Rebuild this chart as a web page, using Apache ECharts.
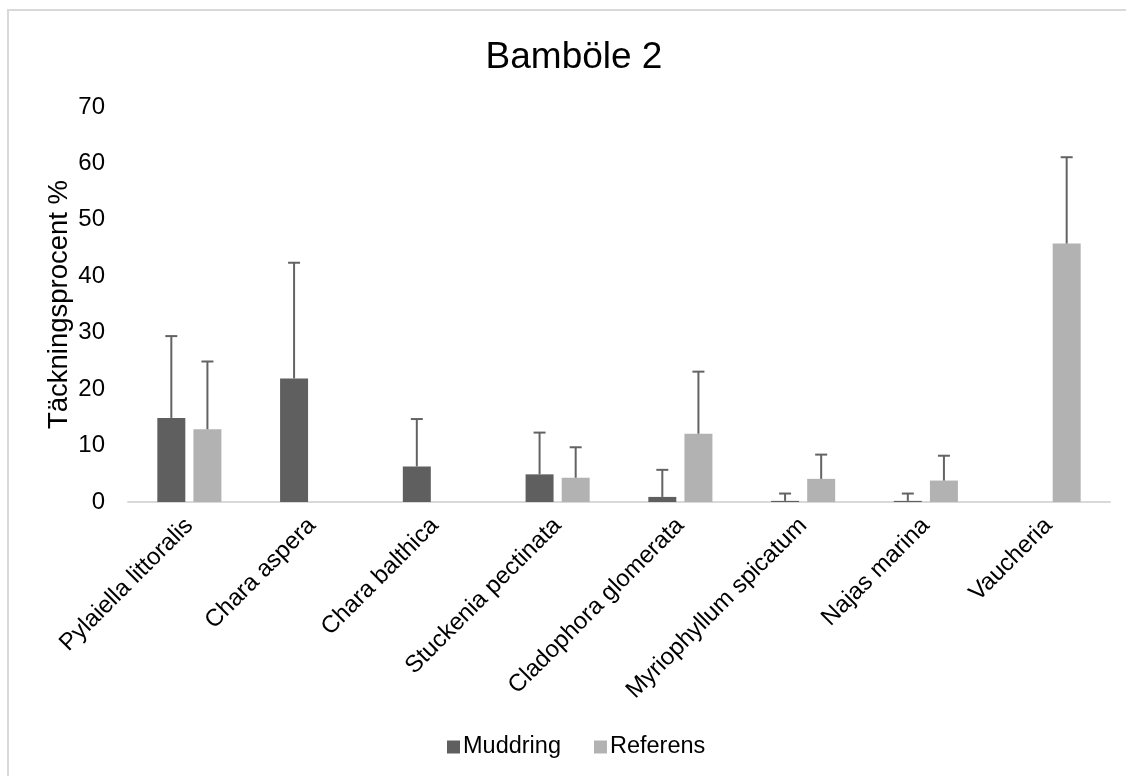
<!DOCTYPE html>
<html>
<head>
<meta charset="utf-8">
<script src="https://cdn.jsdelivr.net/npm/echarts@6/dist/echarts.min.js"></script>
<style>
  html, body { margin: 0; padding: 0; background: #fff; }
  #chart { width: 1126px; height: 776px; }
</style>
</head>
<body>
<div id="chart"></div>
<script>
// Species surveyed at Bamböle 2
const categories = [
  'Pylaiella littoralis', 'Chara aspera', 'Chara balthica', 'Stuckenia pectinata',
  'Cladophora glomerata', 'Myriophyllum spicatum', 'Najas marina', 'Vaucheria'
];
// Mean cover (%) and standard deviation per site type
const muddring   = [14.9, 21.9, 6.3, 4.9, 0.9, 0.2, 0.2, null];
const muddringSd = [14.5, 20.5, 8.4, 7.4, 4.8, 1.3, 1.3, null];
const referens   = [12.9, null, null, 4.3, 12.1, 4.1, 3.8, 45.8];
const referensSd = [12.0, null, null, 5.4, 11.0, 4.3, 4.4, 15.3];

const FONT = "'Liberation Sans', Arial, sans-serif";
const BAR_WIDTH = 0.228;   // share of the category band
const BAR_GAP = 0.29;      // share of one bar width

function errorData(means, sds) {
  const out = [];
  means.forEach((m, i) => {
    if (m != null && sds[i] != null) out.push([i, m, m + sds[i]]);
  });
  return out;
}

// Draws an upper error whisker above a bar; side = -1 (first bar) or +1 (second bar)
function errorRenderer(side) {
  return function (params, api) {
    const band = api.size([1, 0])[0];
    const bw = band * BAR_WIDTH;
    const off = side * (bw + bw * BAR_GAP) / 2;
    const base = api.coord([api.value(0), api.value(1)]);
    const top = api.coord([api.value(0), api.value(2)]);
    const x = base[0] + off;
    const cap = 6;
    const style = { stroke: '#636363', lineWidth: 2 };
    return {
      type: 'group',
      children: [
        { type: 'line', shape: { x1: x, y1: base[1], x2: x, y2: top[1] }, style: style },
        { type: 'line', shape: { x1: x - cap, y1: top[1], x2: x + cap, y2: top[1] }, style: style }
      ]
    };
  };
}

const chart = echarts.init(document.getElementById('chart'));
chart.setOption({
  backgroundColor: '#ffffff',
  animation: false,
  textStyle: { fontFamily: FONT },
  title: {
    text: 'Bamböle 2',
    left: 569,
    top: 34,
    textAlign: 'center',
    textStyle: { fontFamily: FONT, fontSize: 37, fontWeight: 'normal', color: '#000' }
  },
  graphic: [{
    type: 'polyline',
    shape: { points: [[8, 776], [8, 10], [1126, 10]] },
    style: { stroke: '#d9d9d9', lineWidth: 2, fill: null },
    silent: true
  }],
  legend: {
    data: ['Muddring', 'Referens'],
    left: 442,
    bottom: 12,
    icon: 'rect',
    itemWidth: 13,
    itemHeight: 13,
    itemGap: 33,
    textStyle: { fontFamily: FONT, fontSize: 23.5, color: '#000', padding: [0, 0, 0, -2] }
  },
  grid: { left: 128, right: 16, top: 107, height: 395 },
  xAxis: {
    type: 'category',
    data: categories,
    axisLine: { lineStyle: { color: '#d9d9d9', width: 2 } },
    axisTick: { show: false },
    axisLabel: {
      interval: 0,
      rotate: 45,
      margin: 20,
      color: '#000',
      fontFamily: FONT,
      fontSize: 24
    }
  },
  yAxis: {
    type: 'value',
    min: 0,
    max: 70,
    interval: 10,
    name: 'Täckningsprocent %',
    nameLocation: 'middle',
    nameGap: 55,
    nameMoveOverlap: false,
    nameTextStyle: { fontFamily: FONT, fontSize: 27.5, color: '#000' },
    axisLine: { show: false },
    axisTick: { show: false },
    splitLine: { show: false },
    axisLabel: { color: '#000', fontFamily: FONT, fontSize: 24, margin: 23 }
  },
  series: [
    {
      name: 'Muddring',
      type: 'bar',
      data: muddring,
      barWidth: (BAR_WIDTH * 100) + '%',
      barGap: (BAR_GAP * 100) + '%',
      itemStyle: { color: '#5f5f5f' }
    },
    {
      name: 'Referens',
      type: 'bar',
      data: referens,
      barWidth: (BAR_WIDTH * 100) + '%',
      barGap: (BAR_GAP * 100) + '%',
      itemStyle: { color: '#b2b2b2' }
    },
    {
      name: 'Muddring SD',
      type: 'custom',
      renderItem: errorRenderer(-1),
      data: errorData(muddring, muddringSd),
      encode: { x: 0, y: [1, 2] },
      z: 5,
      silent: true
    },
    {
      name: 'Referens SD',
      type: 'custom',
      renderItem: errorRenderer(1),
      data: errorData(referens, referensSd),
      encode: { x: 0, y: [1, 2] },
      z: 5,
      silent: true
    }
  ]
});
</script>
</body>
</html>
